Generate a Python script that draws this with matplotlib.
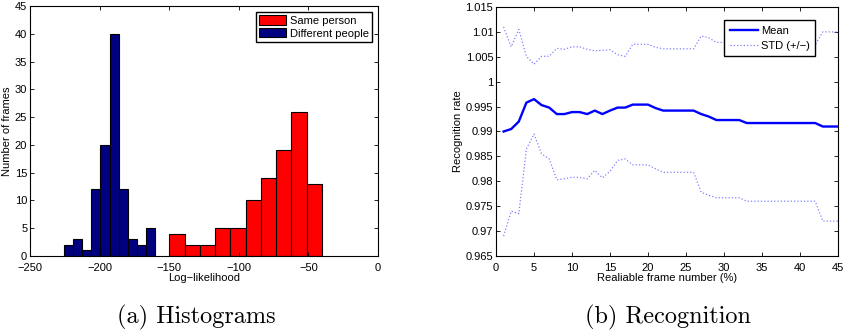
import numpy as np
import matplotlib
matplotlib.use("Agg")
import matplotlib.pyplot as plt
from matplotlib.patches import Patch

# ---- data: histograms ----
diff_counts = [2, 3, 1, 12, 20, 40, 12, 3, 2, 5]
diff_range = (-225.6, -160.1)
same_counts = [4, 2, 2, 5, 5, 10, 14, 19, 26, 13]
same_range = (-149.8, -40.3)

# ---- data: recognition ----
frame_pct = list(range(1, 46))
mean_rate = [0.9900, 0.9905, 0.9920, 0.9958, 0.9965, 0.9953, 0.9948, 0.9935, 0.9935, 0.9939,
             0.9939, 0.9935, 0.9942, 0.9935, 0.9942, 0.9948, 0.9948, 0.9954, 0.9954, 0.9954,
             0.9947, 0.9942, 0.9942, 0.9942, 0.9942, 0.9942, 0.9935, 0.9930, 0.9923, 0.9923,
             0.9923, 0.9923, 0.9917, 0.9917, 0.9917, 0.9917, 0.9917, 0.9917, 0.9917, 0.9917,
             0.9917, 0.9917, 0.9910, 0.9910, 0.9910]
std_rate = [0.0210, 0.0165, 0.0185, 0.0093, 0.0070, 0.0098, 0.0103, 0.0132, 0.0130, 0.0131,
            0.0131, 0.0130, 0.0120, 0.0128, 0.0122, 0.0106, 0.0103, 0.0121, 0.0121, 0.0121,
            0.0122, 0.0124, 0.0124, 0.0124, 0.0124, 0.0124, 0.0157, 0.0158, 0.0156, 0.0156,
            0.0156, 0.0156, 0.0157, 0.0157, 0.0157, 0.0157, 0.0157, 0.0157, 0.0157, 0.0157,
            0.0157, 0.0157, 0.0190, 0.0190, 0.0190]

plt.rcParams['font.family'] = ['Liberation Sans', 'DejaVu Sans']
plt.rcParams['font.size'] = 8
plt.rcParams['axes.unicode_minus'] = True

fig = plt.figure(figsize=(8.46, 3.30), dpi=100)
ax1 = fig.add_axes([30/846, 74/330, 348/846, 250/330])
ax2 = fig.add_axes([496/846, 74/330, 342/846, 249/330])

def hist_bars(ax, counts, rng, color):
    edges = np.linspace(rng[0], rng[1], len(counts) + 1)
    ax.bar(edges[:-1], counts, width=np.diff(edges), align='edge',
           color=color, edgecolor='black', linewidth=0.8)

hist_bars(ax1, diff_counts, diff_range, '#000080')
hist_bars(ax1, same_counts, same_range, '#ff0000')
ax1.set_xlim(-250, 0)
ax1.set_ylim(0, 45)
ax1.set_xticks(np.arange(-250, 1, 50))
ax1.set_yticks(np.arange(0, 46, 5))
ax1.set_xlabel('Log\u2212likelihood', labelpad=0)
ax1.set_ylabel('Number of frames', labelpad=2)
leg1 = ax1.legend(handles=[Patch(facecolor='#ff0000', edgecolor='black', linewidth=0.8, label='Same person'),
                           Patch(facecolor='#000080', edgecolor='black', linewidth=0.8, label='Different people')],
                  loc='upper right', fancybox=False, framealpha=1, edgecolor='black',
                  handlelength=2.4, handleheight=0.9, borderpad=0.3, labelspacing=0.2,
                  handletextpad=0.35, borderaxespad=0.55, fontsize=8)
leg1.get_frame().set_linewidth(1.0)

x = np.array(frame_pct)
m = np.array(mean_rate)
s = np.array(std_rate)
ax2.plot(x, m, color='#0000ff', linewidth=1.7, label='Mean')
ax2.plot(x, m + s, color='#8080ff', linestyle=':', linewidth=0.9, label='STD (+/\u2212)')
ax2.plot(x, m - s, color='#8080ff', linestyle=':', linewidth=0.9)
ax2.set_xlim(0, 45)
ax2.set_ylim(0.965, 1.015)
ax2.set_xticks(np.arange(0, 46, 5))
ax2.set_yticks([0.965, 0.97, 0.975, 0.98, 0.985, 0.99, 0.995, 1.0, 1.005, 1.01, 1.015])
ax2.set_yticklabels(['0.965', '0.97', '0.975', '0.98', '0.985', '0.99', '0.995', '1', '1.005', '1.01', '1.015'])
ax2.set_xlabel('Realiable frame number (%)', labelpad=0)
ax2.set_ylabel('Recognition rate', labelpad=2)
leg2 = ax2.legend(loc='upper right', bbox_to_anchor=(0.933, 0.948), borderaxespad=0,
                  fancybox=False, framealpha=1,
                  edgecolor='black', handlelength=2.6, borderpad=0.5, labelspacing=0.45,
                  handletextpad=0.2, fontsize=8)
leg2.get_frame().set_linewidth(1.0)

for ax in (ax1, ax2):
    ax.tick_params(direction='in', top=True, right=True, length=3, width=0.6, pad=2, labelsize=8)
    ax.tick_params(axis='x', pad=5)
    for sp in ax.spines.values():
        sp.set_linewidth(0.8)

fig.text(196/846, 1 - 317/330, '(a) Histograms', ha='center', va='center',
         fontsize=17.5, family=['cmr10', 'DejaVu Serif'])
fig.text(668/846, 1 - 317/330, '(b) Recognition', ha='center', va='center',
         fontsize=17.5, family=['cmr10', 'DejaVu Serif'])

fig.savefig('out.png', dpi=100)
